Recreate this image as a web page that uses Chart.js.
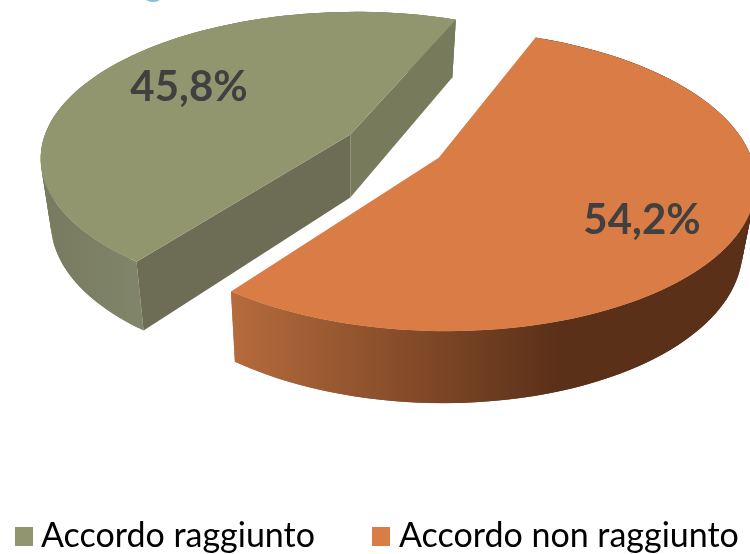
<!DOCTYPE html>
<html>
<head>
<meta charset="utf-8">
<style>
  html, body { margin: 0; padding: 0; background: #fff; }
  canvas { display: block; }
</style>
<script src="https://cdn.jsdelivr.net/npm/chart.js@4/dist/chart.umd.min.js"></script>
</head>
<body>
<canvas id="pie" width="750" height="554"></canvas>
<script>
const categories = ['Accordo raggiunto', 'Accordo non raggiunto'];
const shares = [45.8, 54.2];
const shareLabels = ['45,8%', '54,2%'];
const topColors = ['#91966f', '#d97c45'];

// the 3d look: flat pie from Chart.js, its arcs get projected on a tilted plane
const view = { cx: 394, cy: 146, a: 309, b: 144, p: 0.148 };
const labelSpots = [[189, 87], [642, 220]];
const legendSpots = [[15, 41], [372, 399]];

// the orange slice shows no cut faces from this angle
const sideStyles = [
  { rim: [[40, '#777a5e'], [145, '#818569']], cut: '#6c6d54', back: '#787a5c' },
  { rim: [[233, '#b56b3c'], [560, '#5a3019']] }
];

function project(u, v) {
  const s = 1 / (1 - view.p * v);
  return [view.cx + view.a * u * s, view.cy + view.b * v * s];
}

// same point on the underside of the pie
function drop([x, y]) {
  return [x - (x - 350) * 0.033, y + 57 + 0.045 * y];
}

function poly(ctx, pts, fill) {
  ctx.beginPath();
  pts.forEach((p, i) => (i ? ctx.lineTo(p[0], p[1]) : ctx.moveTo(p[0], p[1])));
  ctx.closePath();
  ctx.fillStyle = fill;
  ctx.fill();
}

function hGradient(ctx, stops) {
  const g = ctx.createLinearGradient(stops[0][0], 0, stops[stops.length - 1][0], 0);
  stops.forEach(s => g.addColorStop((s[0] - stops[0][0]) / (stops[stops.length - 1][0] - stops[0][0]), s[1]));
  return g;
}

const tiltedPie = {
  id: 'tiltedPie',
  beforeDatasetsDraw(chart) {
    const ctx = chart.ctx;
    const arcs = chart.getDatasetMeta(0).data;

    arcs.forEach((arc, i) => {
      const r = arc.outerRadius;
      const mid = (arc.startAngle + arc.endAngle) / 2;
      const ox = Math.cos(mid) * arc.options.offset / r;
      const oy = Math.sin(mid) * arc.options.offset / r;
      const apex = project(ox, oy);
      const rim = [];
      for (let k = 0; k <= 120; k++) {
        const t = arc.startAngle + (arc.endAngle - arc.startAngle) * k / 120;
        rim.push(project(ox + Math.cos(t), oy + Math.sin(t)));
      }
      const style = sideStyles[i];
      const first = rim[0];
      const last = rim[rim.length - 1];

      // wall goes strip by strip, one polygon folds over itself at the sides.
      // strips overlap by one step so no seams show
      const wall = hGradient(ctx, style.rim);
      for (let k = 0; k < rim.length - 1; k++) {
        const next = Math.min(k + 2, rim.length - 1);
        poly(ctx, [rim[k], rim[next], drop(rim[next]), drop(rim[k])], wall);
      }
      if (style.cut) {
        poly(ctx, [apex, last, drop(last), drop(apex)], style.back);
        poly(ctx, [apex, first, drop(first), drop(apex)], style.cut);
      }
      poly(ctx, [apex].concat(rim), arc.options.backgroundColor);
    });

    // stray bit of blue at the top edge of the slide
    ctx.beginPath();
    ctx.ellipse(153, -1, 7, 3, 0, 0, Math.PI * 2);
    ctx.fillStyle = '#8db9e0';
    ctx.fill();

    ctx.textBaseline = 'middle';
    ctx.textAlign = 'center';
    ctx.font = 'bold 42px Lato';
    ctx.fillStyle = '#404040';
    shareLabels.forEach((t, i) => ctx.fillText(t, labelSpots[i][0], labelSpots[i][1]));

    ctx.textAlign = 'left';
    ctx.textBaseline = 'alphabetic';
    ctx.font = '34px Lato';
    categories.forEach((t, i) => {
      ctx.fillStyle = topColors[i];
      ctx.fillRect(legendSpots[i][0], 527, 18, 19);
      ctx.fillStyle = '#000';
      ctx.fillText(t, legendSpots[i][1], 547);
    });
    return false;
  }
};

new Chart(document.getElementById('pie'), {
  type: 'pie',
  data: {
    labels: categories,
    datasets: [{
      data: shares,
      backgroundColor: topColors,
      borderWidth: 0,
      offset: 42
    }]
  },
  options: {
    responsive: false,
    animation: false,
    rotation: 217,
    events: [],
    plugins: {
      legend: { display: false },
      tooltip: { enabled: false }
    }
  },
  plugins: [tiltedPie]
});
</script>
</body>
</html>
